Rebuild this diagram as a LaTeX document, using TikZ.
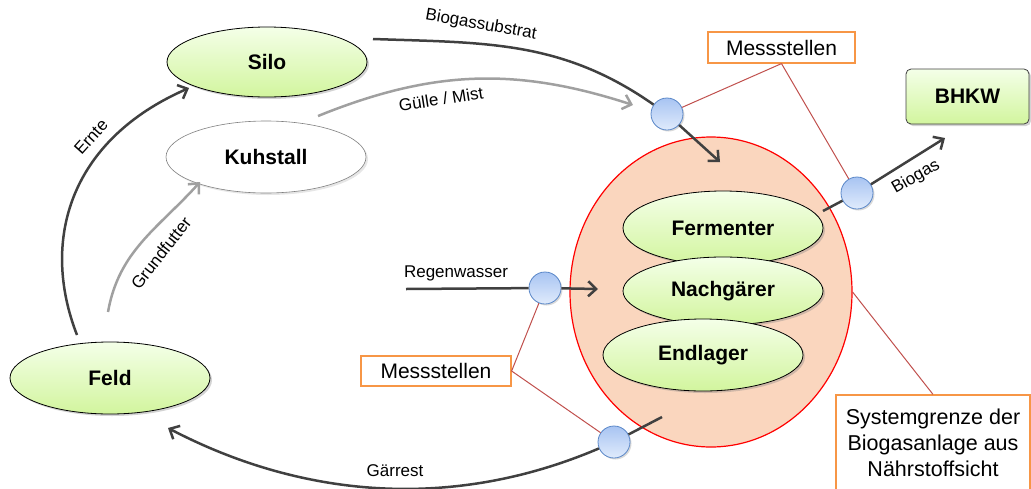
\documentclass[tikz,border=0pt]{standalone}
\usepackage{fontspec}
\setmainfont{Liberation Sans}
\usetikzlibrary{arrows.meta,shapes.geometric,shadows}
\definecolor{gtop}{RGB}{244,255,232}
\definecolor{gbot}{RGB}{210,245,158}
\definecolor{peach}{RGB}{250,214,190}
\definecolor{darkarrow}{RGB}{64,64,64}
\definecolor{grayarrow}{RGB}{160,160,160}
\definecolor{redline}{RGB}{192,80,77}
\definecolor{orangeb}{RGB}{247,150,70}
\definecolor{btop}{RGB}{168,196,242}
\definecolor{bbot}{RGB}{224,235,252}
\definecolor{bdraw}{RGB}{90,135,200}
\tikzset{
  gnode/.style={ellipse, draw=black, line width=0.8pt, top color=gtop, bottom color=gbot,
    inner sep=0pt, minimum width=200pt, font=\fontsize{21}{25}\selectfont\bfseries,
    drop shadow={shadow xshift=2pt, shadow yshift=-2pt, opacity=0.35}},
  mcirc/.style={circle, draw=bdraw, line width=0.8pt, top color=btop, bottom color=bbot,
    minimum size=32pt, inner sep=0pt,
    drop shadow={shadow xshift=1.5pt, shadow yshift=-1.5pt, opacity=0.3}},
  obox/.style={rectangle, draw=orangeb, line width=1.2pt, fill=white, inner sep=0pt},
  darkline/.style={draw=darkarrow, line width=2.5pt},
  grayline/.style={draw=grayarrow, line width=2.5pt},
  arr/.style={-{Straight Barb[length=8pt,width=15pt]}},
  redl/.style={draw=redline, line width=1pt},
  lbl/.style={inner sep=0pt, font=\fontsize{17}{20}\selectfont},
}
\begin{document}
\begin{tikzpicture}[x=1pt,y=-1pt]
\useasboundingbox (0,0) rectangle (1031,488);
% system boundary
\node[ellipse, draw=red, line width=1.2pt, fill=peach, inner sep=0pt,
  minimum width=282pt, minimum height=310pt] (sys) at (711,292) {};
% main nodes
\node[gnode, minimum height=70pt] (silo) at (267,62) {Silo};
\node[ellipse, draw=gray, line width=0.6pt, fill=white, inner sep=0pt, minimum width=200pt,
  minimum height=72pt, font=\fontsize{21}{25}\selectfont\bfseries,
  drop shadow={shadow xshift=2pt, shadow yshift=-2pt, opacity=0.2}] (kuh) at (266,157) {Kuhstall};
\node[gnode, minimum height=72pt] (feld) at (110,378) {Feld};
\node[gnode, minimum height=74pt] (ferm) at (723,228) {Fermenter};
\node[gnode, minimum height=68pt] (nach) at (723,291) {Nachgärer};
\node[gnode, minimum height=72pt] (endl) at (703,355) {Endlager};
\node[rectangle, draw=darkarrow, line width=0.8pt, rounded corners=5pt, top color=gtop,
  bottom color=gbot, minimum width=123pt, minimum height=55pt, inner sep=0pt,
  font=\fontsize{21}{25}\selectfont\bfseries,
  drop shadow={shadow xshift=2pt, shadow yshift=-2pt, opacity=0.35}] (bhkw) at (967.5,96.5) {BHKW};
% label boxes
\node[obox, minimum width=147pt, minimum height=31pt, font=\fontsize{21}{25}\selectfont] (mt) at (781.5,47.5) {Messstellen};
\node[obox, minimum width=150pt, minimum height=30pt, font=\fontsize{21}{25}\selectfont] (mb) at (436,371) {Messstellen};
\node[obox, minimum width=194pt, minimum height=96pt, align=center,
  font=\fontsize{21.5}{26}\selectfont] (sg) at (933,443) {Systemgrenze der\\Biogasanlage aus\\Nährstoffsicht};
% measurement points
\node[mcirc] (m1) at (667,114) {};
\node[mcirc] (m2) at (857,193) {};
\node[mcirc] (m3) at (545,288) {};
\node[mcirc] (m4) at (614,442) {};
% coordinates for free ends
\coordinate (bsStart) at (373,39);
\coordinate (bsEnd) at (720,162);
\coordinate (gmStart) at (318,116);
\coordinate (gmEnd) at (633,105);
\coordinate (erStart) at (77,335);
\coordinate (erEnd) at (189,88);
\coordinate (gfStart) at (108,312);
\coordinate (gfEnd) at (200,182);
\coordinate (rwStart) at (406,289);
\coordinate (rwEnd) at (598,289);
\coordinate (grStart) at (662,417);
\coordinate (grEnd) at (168,428);
\coordinate (bgStart) at (823,211);
\coordinate (bgEnd) at (945,138);
% connectors
\draw[darkline] (bsStart) to[out=-2,in=145] (m1);
\draw[darkline,arr] (m1) -- (bsEnd);
\draw[grayline,arr] (gmStart) to[out=22,in=162] (gmEnd);
\draw[darkline,arr] (erStart) .. controls (40,240) and (70,140) .. (erEnd);
\draw[grayline,arr] (gfStart) to[out=80,in=-132] (gfEnd);
\draw[darkline] (rwStart) -- (m3);
\draw[darkline,arr] (m3) -- (rwEnd);
\draw[darkline] (grStart) -- (m4);
\draw[darkline,arr] (m4) .. controls (450,512) and (300,497) .. (grEnd);
\draw[darkline] (bgStart) -- (m2);
\draw[darkline,arr] (m2) -- (bgEnd);
% red pointer lines
\draw[redl] (mt.south) -- (m1);
\draw[redl] (mt.south) -- (m2);
\draw[redl] (mb.east) -- (m3);
\draw[redl] (mb.east) -- (m4);
\draw[redl] (sys.east) -- (sg.north);
% connector labels
\node[lbl, rotate=-10] (lbs) at (481,25) {Biogassubstrat};
\node[lbl, rotate=9] (lgm) at (441,99) {Gülle / Mist};
\node[lbl, rotate=48] (ler) at (91,137) {Ernte};
\node[lbl, rotate=52] (lgf) at (161,253) {Grundfutter};
\node[lbl] (lrw) at (456,273) {Regenwasser};
\node[lbl] (lgr) at (395,471) {Gärrest};
\node[lbl, rotate=30] (lbg) at (916,177) {Biogas};
\end{tikzpicture}
\end{document}
